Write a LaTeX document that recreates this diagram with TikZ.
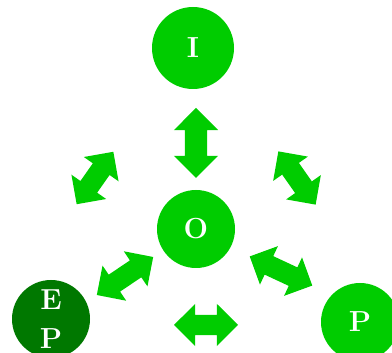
\documentclass[tikz,border=0pt]{standalone}
\usepackage{fontspec}
\usetikzlibrary{shapes.arrows}
\definecolor{lgreen}{RGB}{0,204,0}
\definecolor{dgreen}{RGB}{0,120,0}
\begin{document}
\begin{tikzpicture}[x=1pt, y=-1pt,
  ball/.style={circle, fill=lgreen, text=white, minimum size=78pt, inner sep=0pt, align=center,
    font=\fontsize{29}{39}\selectfont\bfseries},
  twoway/.style={double arrow, fill=lgreen, inner xsep=0pt, inner ysep=10pt, double arrow head extend=11pt}]
  \useasboundingbox (0,0) rectangle (392,353);
  \clip (0,0) rectangle (392,353);
  \node[ball, minimum size=82pt] (I) at (193,48) {I};
  \node[ball] (O) at (196,229) {O};
  \node[ball, fill=dgreen] (EP) at (51,319) {E\\P};
  \node[ball] (P) at (360,322) {P};

  \node[twoway, minimum height=70pt, inner ysep=11pt, rotate=90] (IO) at (196,143) {};
  \node[twoway, minimum height=64pt, rotate=55] (IEP) at (95,178) {};
  \node[twoway, minimum height=65pt, rotate=-55] (IP) at (297,178) {};
  \node[twoway, minimum height=68pt, rotate=34] (OEP) at (125,276) {};
  \node[twoway, minimum height=69pt, rotate=-25] (OP) at (281,271) {};
  \node[twoway, minimum height=64pt] (EPP) at (206,325) {};
\end{tikzpicture}
\end{document}
